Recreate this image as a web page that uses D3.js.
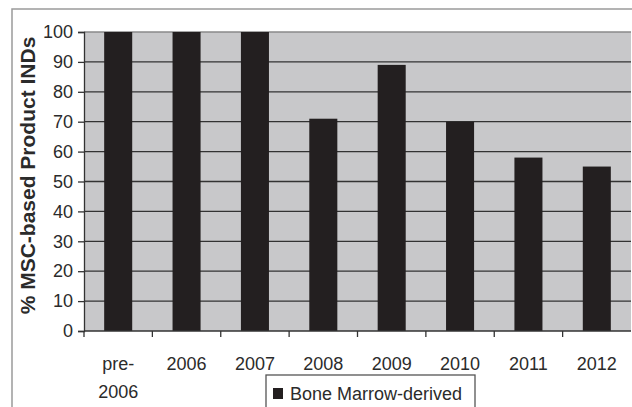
<!DOCTYPE html>
<html>
<head>
<meta charset="utf-8">
<script src="https://cdn.jsdelivr.net/npm/d3@7"></script>
<style>
  body { margin: 0; background: #fff; }
  svg text { font-family: "Liberation Sans", Arial, sans-serif; fill: #2b2b2b; }
</style>
</head>
<body>
<div id="chart"></div>
<script>
// dados
const categories = ['pre-2006', '2006', '2007', '2008', '2009', '2010', '2011', '2012'];
const values = [100, 100, 100, 71, 89, 70, 58, 55];
const yTicks = [0, 10, 20, 30, 40, 50, 60, 70, 80, 90, 100];
const seriesName = 'Bone Marrow-derived';
const yLabel = '% MSC-based Product INDs';

const W = 632, H = 407;
const plot = { left: 84, right: 631, top: 32, bottom: 331 };

const svg = d3.select('#chart').append('svg')
  .attr('width', W)
  .attr('height', H);

// moldura externa
svg.append('rect')
  .attr('x', 12).attr('y', 9)
  .attr('width', W + 20).attr('height', H + 20)
  .attr('fill', 'none')
  .attr('stroke', '#9a9a9a')
  .attr('stroke-width', 1.5);

const x = d3.scaleBand()
  .domain(categories)
  .range([plot.left, plot.right])
  .paddingInner(0.59)
  .paddingOuter(0.295);

const y = d3.scaleLinear().domain([0, 100]).range([plot.bottom, plot.top]);

// fundo da área do gráfico
svg.append('rect')
  .attr('x', plot.left).attr('y', plot.top)
  .attr('width', plot.right - plot.left)
  .attr('height', plot.bottom - plot.top)
  .attr('fill', '#c8c8ca');

// linhas de grade
svg.append('g').selectAll('line').data(yTicks.filter(d => d > 0)).join('line')
  .attr('x1', plot.left).attr('x2', plot.right)
  .attr('y1', d => y(d)).attr('y2', d => y(d))
  .attr('stroke', d => d === 100 ? '#8a8a8a' : '#333')
  .attr('stroke-width', 1.3);

// barras
svg.append('g').selectAll('rect').data(values).join('rect')
  .attr('x', (d, i) => x(categories[i]))
  .attr('y', d => y(d))
  .attr('width', x.bandwidth())
  .attr('height', d => y(0) - y(d))
  .attr('fill', '#231f20');

// eixo Y
const yAxis = svg.append('g')
  .attr('transform', `translate(${plot.left},0)`)
  .call(d3.axisLeft(y).tickValues(yTicks).tickSize(6).tickPadding(5));
yAxis.select('.domain').attr('stroke', '#333').attr('stroke-width', 1.3);
yAxis.selectAll('.tick line').attr('stroke', '#333').attr('stroke-width', 1.3);
yAxis.selectAll('.tick text')
  .style('font-size', '18px')
  .style('font-family', '"Liberation Sans", Arial, sans-serif')
  .attr('fill', '#333');

// eixo X com marcas entre as categorias
svg.append('line')
  .attr('x1', plot.left).attr('x2', plot.right)
  .attr('y1', plot.bottom).attr('y2', plot.bottom)
  .attr('stroke', '#333').attr('stroke-width', 1.3);

const step = x.step();
const boundaries = categories.map((c, i) => x(c) - x.paddingInner() * step / 2);
svg.append('g').selectAll('line').data(boundaries).join('line')
  .attr('x1', d => d).attr('x2', d => d)
  .attr('y1', plot.bottom).attr('y2', plot.bottom + 6)
  .attr('stroke', '#333').attr('stroke-width', 1.3);

const xLabels = svg.append('g').selectAll('text').data(categories).join('text')
  .attr('x', d => x(d) + x.bandwidth() / 2)
  .attr('y', 370)
  .attr('text-anchor', 'middle')
  .style('font-size', '18px')
  .attr('fill', '#333');

xLabels.each(function (d) {
  const t = d3.select(this);
  if (d === 'pre-2006') {
    t.append('tspan').attr('x', x(d) + x.bandwidth() / 2).text('pre-');
    t.append('tspan').attr('x', x(d) + x.bandwidth() / 2).attr('dy', 28).text('2006');
  } else {
    t.text(d);
  }
});

// título do eixo Y
svg.append('text')
  .attr('transform', `translate(35, ${(plot.top + plot.bottom) / 2 - 6}) rotate(-90)`)
  .attr('text-anchor', 'middle')
  .style('font-size', '21px')
  .style('font-weight', 'bold')
  .attr('fill', '#333')
  .text(yLabel);

// legenda
const legend = svg.append('g').attr('transform', 'translate(266, 375)');
legend.append('rect')
  .attr('width', 209).attr('height', 40)
  .attr('fill', '#fff')
  .attr('stroke', '#555')
  .attr('stroke-width', 1.3);
legend.append('rect')
  .attr('x', 7).attr('y', 13)
  .attr('width', 10).attr('height', 11)
  .attr('fill', '#231f20');
legend.append('text')
  .attr('x', 24).attr('y', 25)
  .style('font-size', '18px')
  .attr('fill', '#333')
  .text(seriesName);
</script>
</body>
</html>
